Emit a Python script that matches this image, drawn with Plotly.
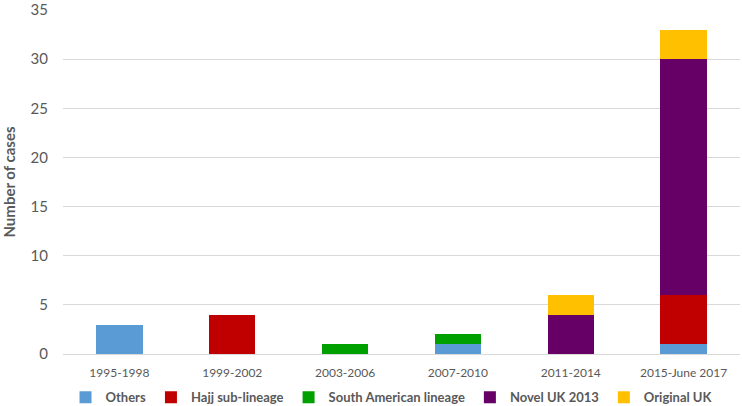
import plotly.graph_objects as go

categories = ["1995-1998", "1999-2002", "2003-2006", "2007-2010", "2011-2014", "2015-June 2017"]
others = [3, 0, 0, 1, 0, 1]
hajj = [0, 4, 0, 0, 0, 5]
south_american = [0, 0, 1, 1, 0, 0]
novel_uk = [0, 0, 0, 0, 4, 24]
original_uk = [0, 0, 0, 0, 2, 3]
y_ticks = [0, 5, 10, 15, 20, 25, 30, 35]

series = [
    ("Others", others, "#5B9BD5"),
    ("Hajj sub-lineage", hajj, "#C00000"),
    ("South American lineage", south_american, "#00A000"),
    ("Novel UK 2013", novel_uk, "#660066"),
    ("Original UK", original_uk, "#FFC000"),
]

fig = go.Figure()
for name, vals, color in series:
    fig.add_trace(go.Bar(x=categories, y=vals, name="<b>" + name + "</b>",
                         marker_color=color, marker_line_width=0))

font_family = "Lato, Open Sans, sans-serif"
fig.update_layout(
    barmode="stack",
    bargap=0.59,
    width=742, height=406,
    margin=dict(l=63, r=2, t=10, b=52, autoexpand=False),
    plot_bgcolor="white", paper_bgcolor="white",
    font=dict(family=font_family, color="#595959"),
    legend=dict(orientation="h", x=0.486, xanchor="center",
                y=-0.126, yanchor="middle",
                font=dict(size=13, color="#595959", family=font_family),
                itemwidth=30, traceorder="normal", tracegroupgap=0),
    yaxis=dict(range=[0, 35], tickvals=y_ticks,
               showgrid=True, gridcolor="#D9D9D9",
               gridwidth=1, zeroline=False, showline=False,
               ticklabeloverflow="allow", ticklabelstandoff=14,
               tickfont=dict(size=15, color="#595959"),
               title=dict(text="<b>Number of cases</b>", font=dict(size=15, color="#595959"),
                          standoff=13)),
    xaxis=dict(showline=True, linecolor="#D9D9D9", linewidth=1,
               ticklabelstandoff=8,
               tickfont=dict(size=12, color="#595959"), ticks=""),
    showlegend=True,
)

fig.write_html("out.html", config={"displayModeBar": False},
               post_script="document.body.style.margin='0px';")
